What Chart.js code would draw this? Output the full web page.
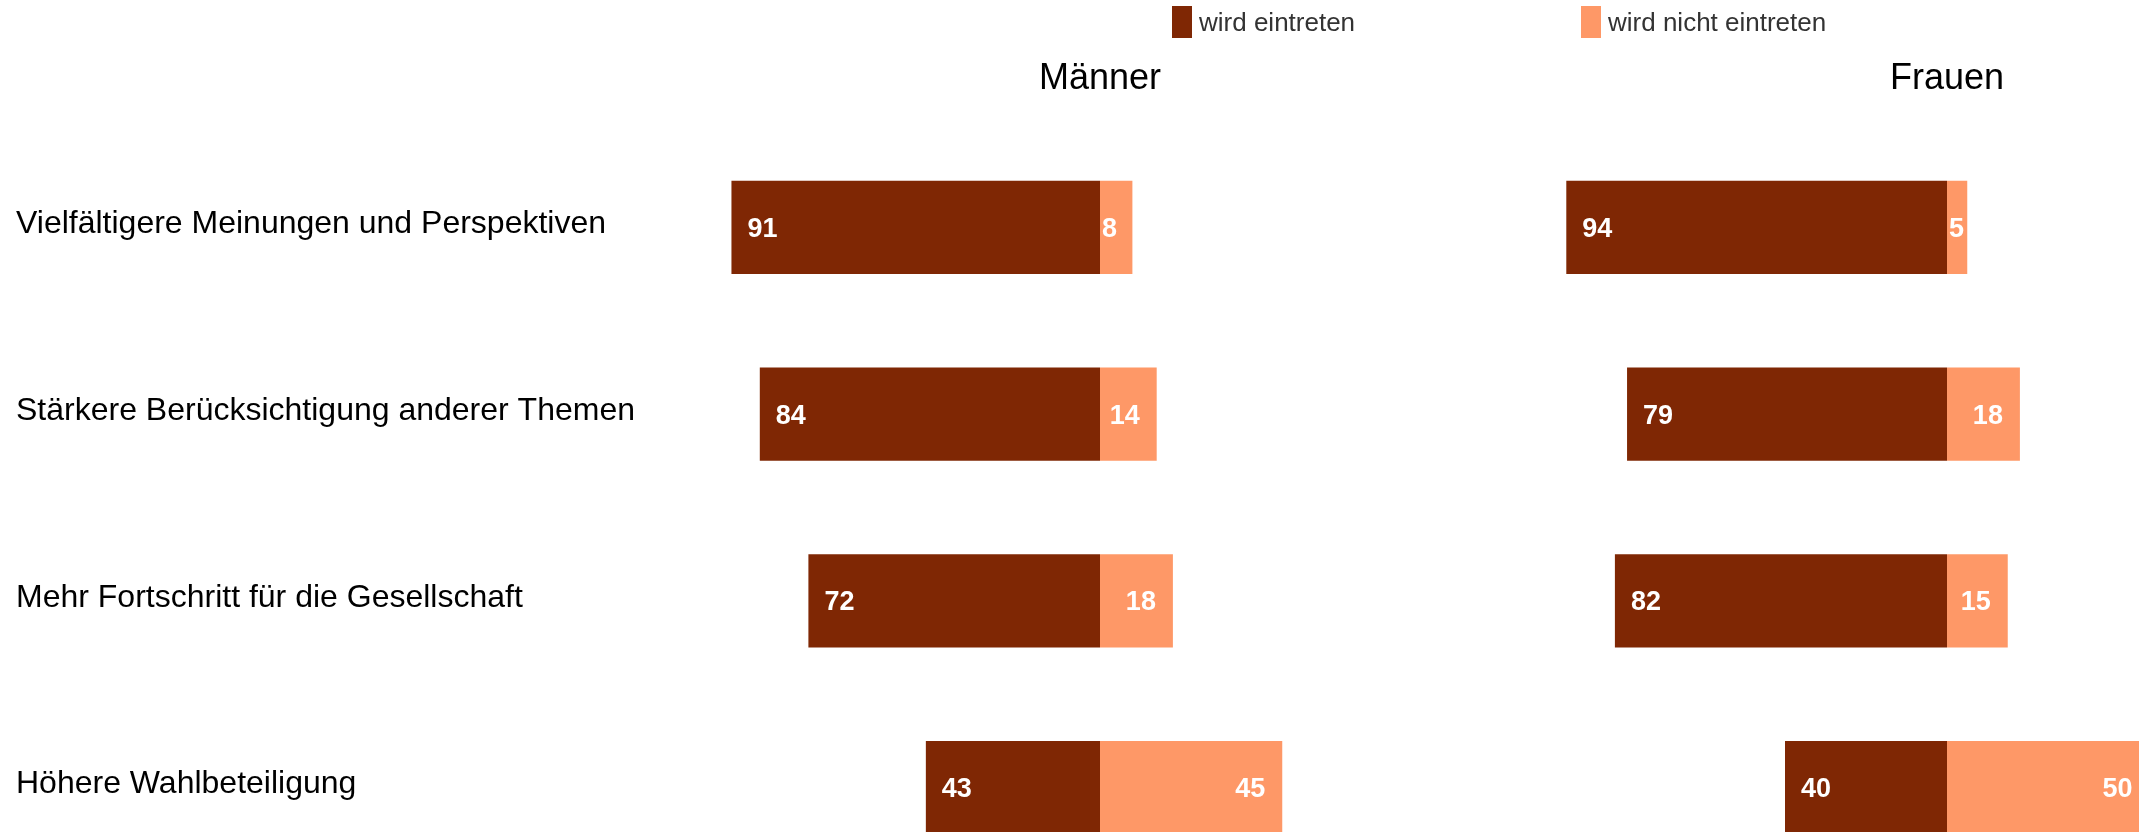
<!DOCTYPE html>
<html lang="de">
<head>
<meta charset="utf-8">
<title>Erwartungen – Männer und Frauen</title>
<script src="https://cdn.jsdelivr.net/npm/chart.js@4.4.1/dist/chart.umd.min.js"></script>
<style>
  html, body { margin: 0; padding: 0; background: #fff; overflow: hidden; }
  #stage { position: relative; width: 2139px; height: 832px; overflow: hidden; background: #fff; }
  canvas { position: absolute; top: 0; }
  #cMen { left: 0; }
  #cWomen { left: 1542px; }
  .lg-box { position: absolute; top: 6px; width: 20px; height: 32px; }
  .lg-text { position: absolute; top: 7px; height: 32px; line-height: 32px;
             font: 26px "Liberation Sans", Arial, Helvetica, sans-serif; color: #333; white-space: nowrap; }
</style>
</head>
<body>
<div id="stage">
  <canvas id="cMen" width="1505" height="881" style="width:1505px;height:881px"></canvas>
  <canvas id="cWomen" width="810" height="881" style="width:810px;height:881px"></canvas>
  <div class="lg-box" style="left:1172px;background:#7f2704"></div>
  <div class="lg-text" style="left:1199px">wird eintreten</div>
  <div class="lg-box" style="left:1581px;background:#fe9867"></div>
  <div class="lg-text" style="left:1608px">wird nicht eintreten</div>
</div>
<script>
// Aussagen (Kategorien)
const categories = [
  'Vielfältigere Meinungen und Perspektiven',
  'Stärkere Berücksichtigung anderer Themen',
  'Mehr Fortschritt für die Gesellschaft',
  'Höhere Wahlbeteiligung'
];
// Anteile in Prozent
const menYes   = [91, 84, 72, 43];
const menNo    = [8, 14, 18, 45];
const womenYes = [94, 79, 82, 40];
const womenNo  = [5, 18, 15, 50];

const seriesNames = ['wird eintreten', 'wird nicht eintreten'];
const panelTitles = ['Männer', 'Frauen'];

const COLOR_YES = '#7f2704';
const COLOR_NO  = '#fe9867';
const FONT = '"Liberation Sans", Arial, Helvetica, sans-serif';

// Writes the percentage inside each bar segment
const valueLabels = {
  id: 'valueLabels',
  afterDatasetsDraw(chart) {
    const ctx = chart.ctx;
    ctx.save();
    ctx.font = 'bold 27px ' + FONT;
    ctx.fillStyle = '#ffffff';
    ctx.textBaseline = 'middle';
    chart.data.datasets.forEach((ds, di) => {
      const meta = chart.getDatasetMeta(di);
      meta.data.forEach((bar, i) => {
        const text = String(ds.shown[i]);
        const p = bar.getProps(['x', 'y', 'base'], true);
        const w = ctx.measureText(text).width;
        const y = p.y + 2;
        if (ds.side === 'left') {
          ctx.textAlign = 'left';
          ctx.fillText(text, Math.min(p.x, p.base) + 16, y);
        } else {
          ctx.textAlign = 'right';
          const end = Math.max(p.x, p.base), start = Math.min(p.x, p.base);
          ctx.fillText(text, Math.max(end - 17, start + w + 2), y);
        }
      });
    });
    ctx.restore();
  }
};

function makePanel(canvasId, yes, no, title, showCategories) {
  return new Chart(document.getElementById(canvasId), {
    type: 'bar',
    data: {
      labels: categories,
      datasets: [
        { label: seriesNames[0], data: yes.map(v => -v), shown: yes, side: 'left',
          backgroundColor: COLOR_YES, borderWidth: 0, barPercentage: 0.5, categoryPercentage: 1 },
        { label: seriesNames[1], data: no, shown: no, side: 'right',
          backgroundColor: COLOR_NO, borderWidth: 0, barPercentage: 0.5, categoryPercentage: 1 }
      ]
    },
    options: {
      indexAxis: 'y',
      responsive: false,
      animation: false,
      devicePixelRatio: 1,
      layout: { padding: { left: showCategories ? 16 : 0, right: 0, top: 0, bottom: 0 } },
      plugins: { legend: { display: false }, tooltip: { enabled: false }, title: { display: false } },
      scales: {
        x: {
          stacked: true,
          position: 'top',
          min: -100,
          max: 100,
          grid: { display: false, drawTicks: false },
          border: { display: false },
          ticks: { display: false },
          title: {
            display: true,
            text: title,
            color: '#000',
            font: { family: FONT, size: 36, weight: 'normal', lineHeight: 1.2 },
            padding: { top: 57, bottom: 0 }
          },
          afterFit(scale) { scale.height = 134; }
        },
        y: {
          stacked: true,
          display: showCategories,
          grid: { display: false, drawTicks: false },
          border: { display: false },
          ticks: {
            crossAlign: 'far',
            color: '#000',
            labelOffset: -3,
            font: { family: FONT, size: 32 }
          },
          afterFit(scale) {
            if (showCategories) scale.width = 679;
            scale.paddingTop = 0;
            scale.paddingBottom = 0;
          }
        }
      }
    },
    plugins: [valueLabels]
  });
}

makePanel('cMen', menYes, menNo, panelTitles[0], true);
makePanel('cWomen', womenYes, womenNo, panelTitles[1], false);
</script>
</body>
</html>
